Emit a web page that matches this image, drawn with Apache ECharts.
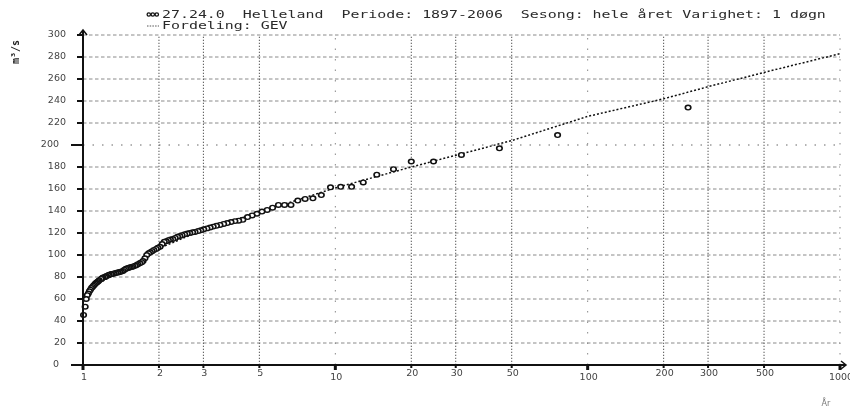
<!DOCTYPE html>
<html><head><meta charset="utf-8">
<script src="https://cdn.jsdelivr.net/npm/echarts@6/dist/echarts.min.js"></script>
<style>html,body{margin:0;padding:0;background:#fff}#c{width:850px;height:408px}</style>
</head><body><div id="c"></div>
<script>
// Return periods (years) of the ranked annual maxima (rank 1 .. 110)
const returnPeriods = [
  250, 76, 44.7, 31.6, 24.5, 20, 17, 14.6, 12.9, 11.6,
  10.5, 9.57, 8.8, 8.15, 7.59, 7.1, 6.67, 6.29, 5.95, 5.64,
  5.37, 5.12, 4.89, 4.68, 4.49, 4.3, 4.14, 4.0, 3.86, 3.73,
  3.61, 3.49, 3.38, 3.28, 3.19, 3.1, 3.01, 2.93, 2.86, 2.78,
  2.72, 2.65, 2.59, 2.53, 2.47, 2.42, 2.37, 2.32, 2.27, 2.22,
  2.18, 2.14, 2.1, 2.06, 2.02, 1.98, 1.95, 1.91, 1.88, 1.85,
  1.82, 1.79, 1.76, 1.73, 1.71, 1.68, 1.65, 1.63, 1.61, 1.58,
  1.56, 1.54, 1.52, 1.5, 1.48, 1.46, 1.44, 1.42, 1.4, 1.38,
  1.37, 1.35, 1.33, 1.32, 1.3, 1.29, 1.27, 1.26, 1.24, 1.23,
  1.22, 1.2, 1.19, 1.18, 1.16, 1.15, 1.14, 1.13, 1.12, 1.11,
  1.1, 1.09, 1.08, 1.07, 1.06, 1.05, 1.04, 1.03, 1.02, 1.005
];
// Observed flood values (m3/s), same order
const observedFlows = [
  234, 209, 197, 191, 185, 185, 178, 173, 166, 162,
  162, 161.5, 154.5, 151.5, 151, 149.5, 145.5, 145.5, 145.5, 143,
  141, 139.5, 137.5, 136, 134.5, 132, 131.2, 130.8, 130, 129,
  128.2, 127.3, 126.5, 125.8, 125, 124.2, 123.4, 122.5, 121.8, 121,
  120.6, 120, 119.5, 118.8, 118, 117.2, 116.5, 115.5, 114.5, 114,
  113.5, 112.5, 112, 110, 107.5, 106.5, 105.5, 104.5, 103.5, 102.5,
  101.5, 100, 97, 94.5, 93.5, 92.5, 91.5, 90.8, 90.2, 89.6,
  89.2, 88.8, 88.4, 88, 87.5, 86.5, 85.5, 85, 84.5, 84.2,
  84, 83.6, 83.3, 83, 82.8, 82.5, 82, 81.5, 81, 80.5,
  80, 79.5, 78.8, 78.2, 77, 76.2, 75.5, 74.8, 74, 73,
  72, 71, 70, 68.5, 67, 65, 63.5, 60, 53, 45.5
];
// Fitted GEV distribution
const gevPeriods = [1.01, 1.1, 1.5, 2, 3, 5, 10, 20, 50, 100, 200, 300, 500, 1000];
const gevFlows   = [58, 72, 88, 106, 123, 139, 161, 180, 204, 226, 242, 253, 266, 283];

const yTicks = [0, 20, 40, 60, 80, 100, 120, 140, 160, 180, 200, 220, 240, 260, 280, 300];
const yLongTicks = [0, 200];
const xTicks = [1, 2, 3, 5, 10, 20, 30, 50, 100, 200, 300, 500, 1000];
const xMajorTicks = [1, 10, 100, 1000];

const titleLine = '27.24.0  Helleland  Periode: 1897-2006  Sesong: hele året Varighet: 1 døgn';
const distLine = 'Fordeling: GEV';
const yName = 'm³/s';
const xName = 'År';

const X_MIN = 1, X_MAX = 1000, Y_MIN = 0, Y_MAX = 300;
const labelFont = '9.5px "DejaVu Sans"';

const chart = echarts.init(document.getElementById('c'), null, {renderer: 'canvas'});

function hGrid(params, api) {
  const y = api.value(1);
  if (y === Y_MIN) return null;
  const a = api.coord([X_MIN, y]), b = api.coord([X_MAX, y]);
  const special = y === 200;
  return {type: 'line', shape: {x1: a[0], y1: a[1], x2: b[0], y2: b[1]},
    style: {stroke: special ? '#666' : '#8a8a8a', lineWidth: 1, lineDash: special ? [1.5, 8] : [3.5, 2.5]}};
}
function vGrid(params, api) {
  const x = api.value(0);
  if (x === X_MIN) return null;
  const a = api.coord([x, Y_MIN]), b = api.coord([x, Y_MAX]);
  const major = xMajorTicks.includes(x);
  return {type: 'line', shape: {x1: a[0], y1: a[1], x2: b[0], y2: b[1]},
    style: {stroke: major ? '#888' : '#555', lineWidth: 1, lineDash: major ? [1.5, 9] : [1.3, 1.7]}};
}
function xAxisDeco(params, api) {
  const x = api.value(0);
  const p = api.coord([x, Y_MIN]);
  const major = xMajorTicks.includes(x);
  const w = major ? 3 : 2, h = major ? 5 : 3;
  return {type: 'group', children: [
    {type: 'rect', shape: {x: p[0] - w / 2, y: p[1], width: w, height: h}, style: {fill: '#111'}},
    {type: 'text', style: {x: p[0] + 1, y: p[1] + (major ? 8 : 4), text: String(x), font: labelFont,
      fill: '#444', align: 'center', verticalAlign: 'top'}}
  ]};
}
function yAxisDeco(params, api) {
  const y = api.value(1);
  const p = api.coord([X_MIN, y]);
  const long = yLongTicks.includes(y);
  const len = long ? 12 : 6;
  return {type: 'group', children: [
    {type: 'rect', shape: {x: p[0] - len, y: p[1] - 1, width: len, height: 2}, style: {fill: '#111'}},
    {type: 'text', style: {x: p[0] - (long ? 24 : 17), y: p[1], text: String(y), font: labelFont,
      fill: '#444', align: 'right', verticalAlign: 'middle'}}
  ]};
}
function axisLines(params, api) {
  const o = api.coord([X_MIN, Y_MIN]);
  const xe = api.coord([X_MAX, Y_MIN]);
  const ye = api.coord([X_MIN, Y_MAX]);
  const st = {stroke: '#111', lineWidth: 2, fill: null};
  const xEnd = xe[0] + 6, yEnd = ye[1] - 5;
  return {type: 'group', children: [
    {type: 'line', shape: {x1: o[0] - 12, y1: o[1], x2: xEnd, y2: o[1]}, style: st},
    {type: 'polyline', shape: {points: [[xEnd - 5, o[1] - 4], [xEnd, o[1]], [xEnd - 5, o[1] + 4]]}, style: {stroke: '#111', lineWidth: 1.5, fill: null}},
    {type: 'line', shape: {x1: o[0], y1: o[1] + 5, x2: o[0], y2: yEnd}, style: st},
    {type: 'polyline', shape: {points: [[o[0] - 4, yEnd + 5], [o[0], yEnd], [o[0] + 4, yEnd + 5]]}, style: {stroke: '#111', lineWidth: 1.5, fill: null}}
  ]};
}

const option = {
  animation: false,
  backgroundColor: '#fff',
  grid: {left: 83, right: 10, top: 35, bottom: 43, containLabel: false},
  xAxis: {type: 'log', logBase: 10, min: X_MIN, max: X_MAX,
    axisLine: {show: false}, axisTick: {show: false}, axisLabel: {show: false}, splitLine: {show: false}},
  yAxis: {type: 'value', min: Y_MIN, max: Y_MAX, interval: 20,
    axisLine: {show: false}, axisTick: {show: false}, axisLabel: {show: false}, splitLine: {show: false}},
  series: [
    {type: 'custom', name: 'hgrid', z: 1, silent: true, renderItem: hGrid,
      data: yTicks.map(v => [X_MIN, v]), encode: {x: 0, y: 1}},
    {type: 'custom', name: 'vgrid', z: 1, silent: true, renderItem: vGrid,
      data: xTicks.map(v => [v, Y_MIN]), encode: {x: 0, y: 1}},
    {type: 'line', name: distLine, z: 3, silent: true, showSymbol: false, symbol: 'none',
      data: gevPeriods.map((t, i) => [t, gevFlows[i]]),
      lineStyle: {color: '#111', width: 1.5, type: [2, 2]}},
    {type: 'scatter', name: titleLine, z: 4, silent: true, symbol: 'circle', symbolSize: [5.5, 4.6],
      data: returnPeriods.map((t, i) => [t, observedFlows[i]]),
      itemStyle: {color: '#fff', borderColor: '#111', borderWidth: 1.5, opacity: 1}},
    {type: 'custom', name: 'xaxis', z: 5, silent: true, renderItem: xAxisDeco,
      data: xTicks.map(v => [v, Y_MIN]), encode: {x: 0, y: 1}},
    {type: 'custom', name: 'yaxis', z: 5, silent: true, renderItem: yAxisDeco,
      data: yTicks.map(v => [X_MIN, v]), encode: {x: 0, y: 1}},
    {type: 'custom', name: 'axes', z: 6, silent: true, renderItem: axisLines,
      data: [[X_MIN, Y_MIN]], encode: {x: 0, y: 1}}
  ],
  graphic: [
    {type: 'circle', shape: {cx: 148.8, cy: 14.5, r: 1.7}, style: {fill: '#fff', stroke: '#111', lineWidth: 1.3}},
    {type: 'circle', shape: {cx: 152.8, cy: 14.5, r: 1.7}, style: {fill: '#fff', stroke: '#111', lineWidth: 1.3}},
    {type: 'circle', shape: {cx: 156.8, cy: 14.5, r: 1.7}, style: {fill: '#fff', stroke: '#111', lineWidth: 1.3}},
    {type: 'line', shape: {x1: 147, y1: 26, x2: 159, y2: 26}, style: {stroke: '#555', lineWidth: 1, lineDash: [1.5, 1.2]}},
    {type: 'text', x: 162, y: 15, scaleX: 1.49, style: {text: titleLine, font: '10px "DejaVu Sans Mono"', fill: '#2a2a2a', verticalAlign: 'middle', align: 'left'}},
    {type: 'text', x: 162, y: 26.5, scaleX: 1.49, style: {text: distLine, font: '10px "DejaVu Sans Mono"', fill: '#2a2a2a', verticalAlign: 'middle', align: 'left'}},
    {type: 'text', x: 16, y: 52, rotation: Math.PI / 2, style: {text: yName, font: 'bold 10px "DejaVu Sans Mono"', fill: '#222', align: 'center', verticalAlign: 'middle'}},
    {type: 'text', x: 826, y: 404, style: {text: xName, font: '8px "DejaVu Sans"', fill: '#777', align: 'center', verticalAlign: 'middle'}}
  ]
};
chart.setOption(option);
</script>
</body></html>
